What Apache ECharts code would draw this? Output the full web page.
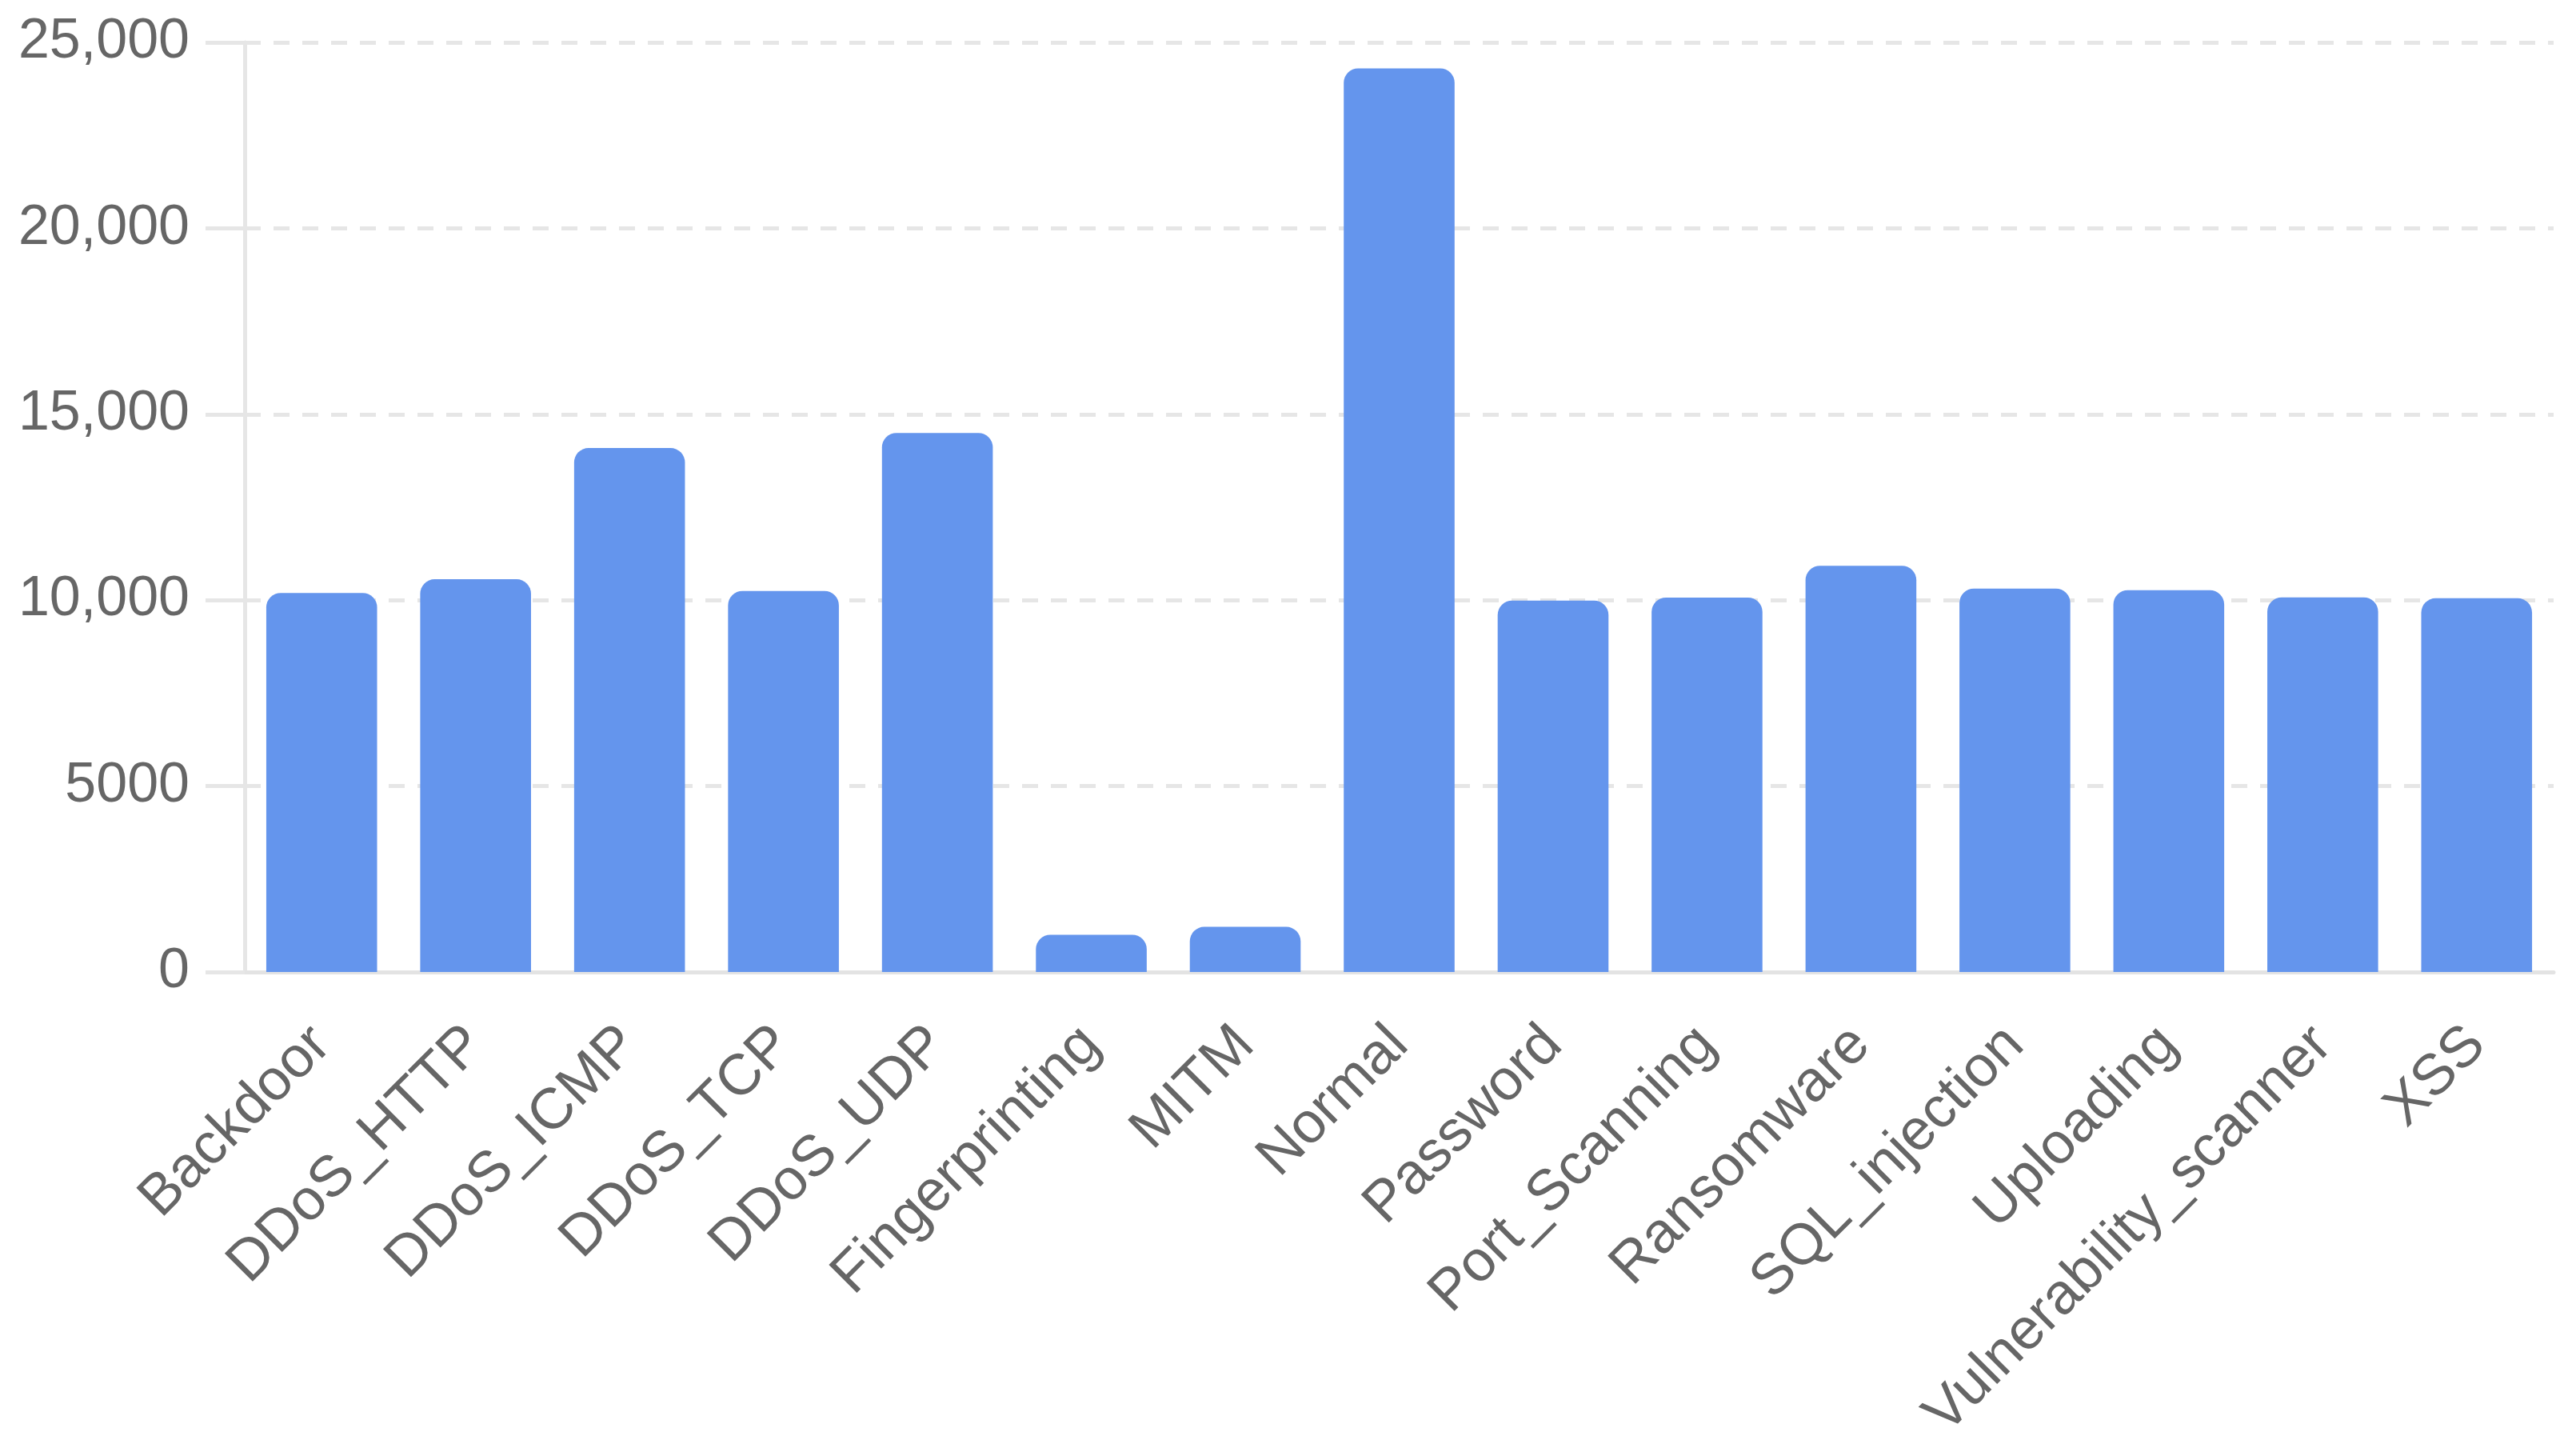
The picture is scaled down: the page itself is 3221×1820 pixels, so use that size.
<!DOCTYPE html>
<html>
<head>
<meta charset="utf-8">
<style>
  html, body { margin: 0; padding: 0; background: #ffffff; }
  #chart { width: 3221px; height: 1820px; }
</style>
<script src="https://cdn.jsdelivr.net/npm/echarts@6/dist/echarts.min.js"></script>
</head>
<body>
<div id="chart"></div>
<script>
const categories = ['Backdoor', 'DDoS_HTTP', 'DDoS_ICMP', 'DDoS_TCP', 'DDoS_UDP', 'Fingerprinting', 'MITM', 'Normal', 'Password', 'Port_Scanning', 'Ransomware', 'SQL_injection', 'Uploading', 'Vulnerability_scanner', 'XSS'];
const counts = [10195, 10561, 14090, 10247, 14498, 1001, 1214, 24301, 9989, 10071, 10925, 10311, 10269, 10076, 10052];
const yTickValues = [0, 5000, 10000, 15000, 20000, 25000];
const yTickLabels = ['0', '5000', '10,000', '15,000', '20,000', '25,000'];

const chart = echarts.init(document.getElementById('chart'), null, { renderer: 'canvas' });
const font = '"Liberation Sans", Arial, sans-serif';
const option = {
  animation: false,
  backgroundColor: '#ffffff',
  grid: { left: 306, right: 28, top: 53, bottom: 605, containLabel: false, outerBoundsMode: 'none' },
  xAxis: {
    type: 'category',
    data: categories,
    axisLine: { show: true, lineStyle: { color: '#e3e3e3', width: 5 } },
    axisTick: { show: false },
    axisLabel: {
      rotate: 45, interval: 0, margin: 80,
      color: '#666666', fontSize: 72, fontFamily: font
    },
    splitLine: { show: false }
  },
  yAxis: {
    type: 'value',
    min: 0, max: 25000, interval: 5000,
    axisLine: { show: true, lineStyle: { color: '#e6e6e6', width: 5 } },
    axisTick: { show: true, length: 49, lineStyle: { color: '#e6e6e6', width: 5 } },
    axisLabel: {
      margin: 69, color: '#666666', fontSize: 70, fontFamily: font,
      formatter: function (v) { const i = yTickValues.indexOf(v); return i >= 0 ? yTickLabels[i] : String(v); }
    },
    splitLine: { show: true, lineStyle: { color: '#e6e6e6', width: 5, type: [20, 16] } }
  },
  series: [{
    type: 'bar',
    data: counts,
    barWidth: '72%',
    itemStyle: { color: '#6495ED', borderRadius: [18, 18, 0, 0] }
  }]
};
chart.setOption(option);
</script>
</body>
</html>
